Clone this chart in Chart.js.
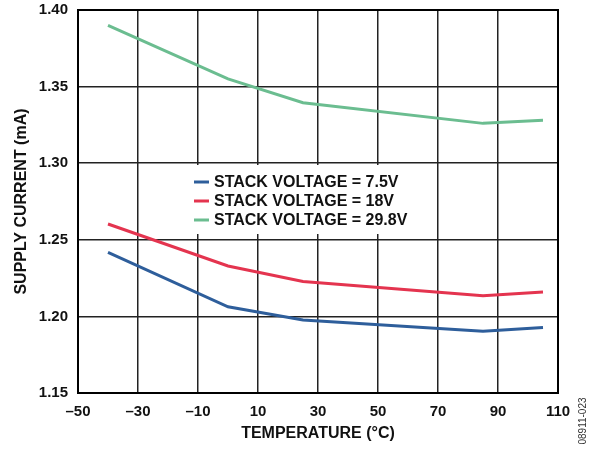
<!DOCTYPE html>
<html>
<head>
<meta charset="utf-8">
<script src="https://cdn.jsdelivr.net/npm/chart.js@4/dist/chart.umd.min.js"></script>
<style>
  html, body { margin: 0; padding: 0; background: #fff; }
  #wrap { width: 596px; height: 455px; position: relative; }
</style>
</head>
<body>
<div id="wrap"><canvas id="chart" width="596" height="455"></canvas></div>
<script>
const temps = [-40, 0, 25, 85, 105];
const current75 = [1.2418, 1.2063, 1.1976, 1.1903, 1.1927];
const current18 = [1.2603, 1.2329, 1.2228, 1.2135, 1.2160];
const current298 = [1.3900, 1.3550, 1.3395, 1.3260, 1.3280];
const seriesLabels = ['STACK VOLTAGE = 7.5V', 'STACK VOLTAGE = 18V', 'STACK VOLTAGE = 29.8V'];
const xTicks = [-50, -30, -10, 10, 30, 50, 70, 90, 110];
const yTicks = [1.15, 1.20, 1.25, 1.30, 1.35, 1.40];

const FONT = 'Arial, "Liberation Sans", sans-serif';
const colors = ['#2e5e9b', '#e4344f', '#6bbd90'];

const toPoints = ys => temps.map((t, i) => ({ x: t, y: ys[i] }));

// legend box inside the plot + outer frame + figure code
const extras = {
  id: 'extras',
  beforeDatasetsDraw(chart) {
    const ctx = chart.ctx;
    ctx.save();
    ctx.fillStyle = '#fff';
    ctx.fillRect(190, 165, 230, 69);
    ctx.restore();
  },
  afterDraw(chart) {
    const ctx = chart.ctx;
    const ca = chart.chartArea;
    ctx.save();
    // frame
    ctx.strokeStyle = '#000';
    ctx.lineWidth = 2;
    ctx.strokeRect(ca.left, ca.top, ca.right - ca.left, ca.bottom - ca.top);
    // legend
    ctx.font = 'bold 16px ' + FONT;
    ctx.textBaseline = 'middle';
    ctx.fillStyle = '#111';
    chart.data.datasets.forEach((ds, i) => {
      const y = 182 + i * 19;
      ctx.strokeStyle = ds.borderColor;
      ctx.lineWidth = 3;
      ctx.beginPath();
      ctx.moveTo(194, y);
      ctx.lineTo(209, y);
      ctx.stroke();
      ctx.fillText(ds.label, 214, y + 1);
    });
    // figure code
    ctx.translate(583, 421);
    ctx.rotate(-Math.PI / 2);
    ctx.font = '10px ' + FONT;
    ctx.textAlign = 'center';
    ctx.fillStyle = '#333';
    ctx.fillText('08911-023', 0, 0);
    ctx.restore();
  }
};

new Chart(document.getElementById('chart'), {
  type: 'line',
  data: {
    datasets: [current75, current18, current298].map((ys, i) => ({
      label: seriesLabels[i],
      data: toPoints(ys),
      borderColor: colors[i],
      backgroundColor: colors[i],
      borderWidth: 3,
      pointRadius: 0,
      tension: 0,
      fill: false
    }))
  },
  options: {
    responsive: false,
    animation: false,
    events: [],
    layout: { padding: { top: 10, right: 38, left: 0, bottom: 0 } },
    plugins: {
      legend: { display: false },
      tooltip: { enabled: false }
    },
    scales: {
      x: {
        type: 'linear',
        min: -50,
        max: 110,
        afterBuildTicks: axis => { axis.ticks = xTicks.map(v => ({ value: v })); },
        afterFit: axis => { axis.height = 62; axis.paddingLeft = 0; axis.paddingRight = 0; },
        grid: { color: '#222', lineWidth: 1.5, drawTicks: false },
        border: { display: false },
        ticks: {
          padding: 10,
          color: '#111',
          font: { family: FONT, size: 15, weight: 'bold' },
          maxRotation: 0,
          callback: v => v < 0 ? '\u2013' + Math.abs(v) : String(v)
        },
        title: {
          display: true,
          text: 'TEMPERATURE (°C)',
          color: '#111',
          font: { family: FONT, size: 16, weight: 'bold' },
          padding: { top: 0, bottom: 12 }
        }
      },
      y: {
        type: 'linear',
        min: 1.15,
        max: 1.40,
        afterBuildTicks: axis => { axis.ticks = yTicks.map(v => ({ value: v })); },
        afterFit: axis => { axis.width = 78; axis.paddingTop = 0; axis.paddingBottom = 0; },
        grid: { color: '#222', lineWidth: 1.5, drawTicks: false },
        border: { display: false },
        ticks: {
          padding: 10,
          color: '#111',
          font: { family: FONT, size: 15, weight: 'bold' },
          callback: v => Number(v).toFixed(2)
        },
        title: {
          display: true,
          text: 'SUPPLY CURRENT (mA)',
          color: '#111',
          font: { family: FONT, size: 16, weight: 'bold' },
          padding: { top: 12, bottom: 0 }
        }
      }
    }
  },
  plugins: [extras]
});
</script>
</body>
</html>
